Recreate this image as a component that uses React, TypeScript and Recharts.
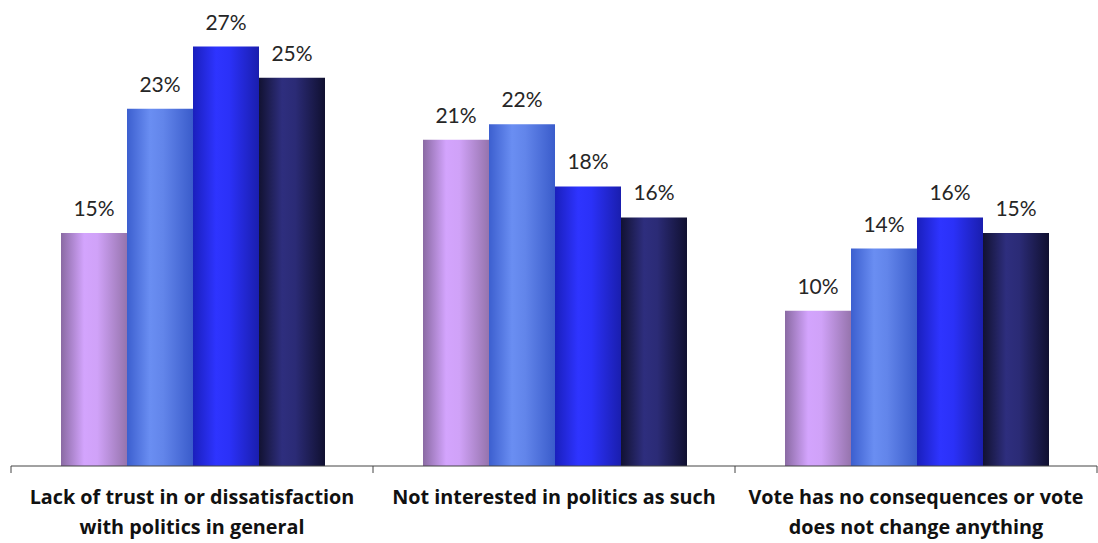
import React from "react";
import { BarChart, Bar, XAxis, YAxis, LabelList } from "recharts";

const categoryLines: string[][] = [
  ["Lack of trust in or dissatisfaction", "with politics in general"],
  ["Not interested in politics as such"],
  ["Vote has no consequences or vote", "does not change anything"],
];
const categories = categoryLines.map((l) => l.join(" "));
const seriesA = [15, 21, 10];
const seriesB = [23, 22, 14];
const seriesC = [27, 18, 16];
const seriesD = [25, 16, 15];

const data = categories.map((c, i) => ({
  name: c,
  a: seriesA[i],
  b: seriesB[i],
  c: seriesC[i],
  d: seriesD[i],
}));

const gradients = [
  { id: "gA", stops: ["#8a6aa3", "#d3a4fd", "#d0a2f8", "#9674ad"] },
  { id: "gB", stops: ["#3c5fcf", "#6a8ef2", "#6285ea", "#3a5ccb"] },
  { id: "gC", stops: ["#1a1fbd", "#2e34ff", "#2b31f8", "#1a1eae"] },
  { id: "gD", stops: ["#121232", "#2e2e7e", "#2b2b76", "#101030"] },
];

const FONT = "Lato, 'Open Sans', sans-serif";
const CAT_FONT = "'Open Sans', Lato, sans-serif";

const Tick = (props: any) => {
  const { x, y, payload } = props;
  const idx = categories.indexOf(payload.value);
  const lines = idx >= 0 ? categoryLines[idx] : [payload.value];
  const half = 181;
  return (
    <g>
      <line x1={x - half} x2={x - half} y1={y - 8} y2={y - 1} stroke="#444" strokeWidth={1} />
      {idx === categories.length - 1 && (
        <line x1={x + half} x2={x + half} y1={y - 8} y2={y - 1} stroke="#444" strokeWidth={1} />
      )}
      {lines.map((l, i) => (
        <text
          key={i}
          x={x}
          y={y + 30 + i * 30}
          textAnchor="middle"
          fontFamily={CAT_FONT}
          fontWeight="bold"
          fontSize={19.8}
          fill="#111"
        >
          {l}
        </text>
      ))}
    </g>
  );
};

const labelFmt = (v: any) => `${v}%`;

export default function App() {
  const keys = ["a", "b", "c", "d"];
  return (
    <div style={{ position: "absolute", left: 0, top: 0 }}>
      <BarChart
        width={1098}
        height={543}
        data={data}
        margin={{ top: 0, right: 1, bottom: 0, left: 11 }}
        barCategoryGap={50}
        barGap={0}
      >
        <defs>
          {gradients.map((g) => (
            <linearGradient key={g.id} id={g.id} x1="0" y1="0" x2="1" y2="0">
              <stop offset="0%" stopColor={g.stops[0]} />
              <stop offset="35%" stopColor={g.stops[1]} />
              <stop offset="55%" stopColor={g.stops[2]} />
              <stop offset="100%" stopColor={g.stops[3]} />
            </linearGradient>
          ))}
        </defs>
        <XAxis
          dataKey="name"
          axisLine={{ stroke: "#444", strokeWidth: 1 }}
          tickLine={false}
          tick={<Tick />}
          interval={0}
          height={77}
        />
        <YAxis hide domain={[0, 30]} />
        {keys.map((k, i) => (
          <Bar key={k} dataKey={k} fill={`url(#${gradients[i].id})`} isAnimationActive={false}>
            <LabelList
              dataKey={k}
              position="top"
              offset={17}
              formatter={labelFmt}
              fontFamily={FONT}
              fontSize={21}
              fill="#262626"
            />
          </Bar>
        ))}
      </BarChart>
    </div>
  );
}
